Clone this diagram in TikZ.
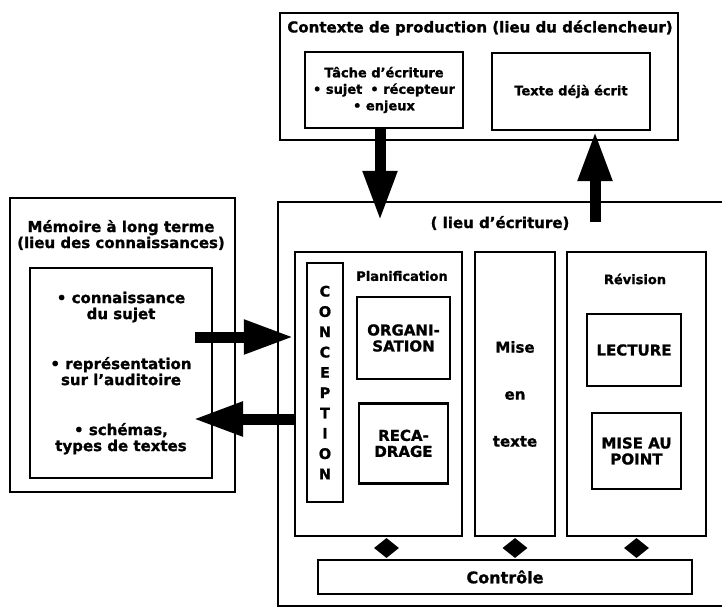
\documentclass[tikz,border=0pt]{standalone}
\usepackage{fontspec}
\setmainfont{DejaVu Sans}[BoldFeatures={FakeBold=1.2}]
\usetikzlibrary{positioning,shapes.geometric,arrows.meta}

\begin{document}
\begin{tikzpicture}[x=1pt, y=-1pt,
  frame/.style={rectangle, draw, line width=2.4pt, inner sep=0pt, align=center},
  big/.style={font=\bfseries\fontsize{15}{16}\selectfont, align=center},
  small/.style={font=\bfseries\fontsize{13}{16.5}\selectfont, align=center},
  bigarr/.style={line width=11pt, -{Triangle[length=50pt, width=32pt]}},
  link/.style={diamond, fill=black, inner sep=0pt, minimum width=25pt, minimum height=20pt}
]
\useasboundingbox (0,0) rectangle (722,609);
\clip (0,0) rectangle (722,609);

% contexte de production
\node[frame, minimum width=398pt, minimum height=127pt] (ctx) at (479,76.5) {};
\node[big] (ctxtitle) at (480,28) {Contexte de production (lieu du déclencheur)};
\node[frame, small, minimum width=158pt, minimum height=76pt] (task) at (384,90)
  {Tâche d’écriture\\• sujet\hspace{8pt}• récepteur\\• enjeux};
\node[frame, small, minimum width=158pt, minimum height=77pt] (written) at (571,91.5) {Texte déjà écrit};

% memoire a long terme
\node[frame, minimum width=225pt, minimum height=294pt] (mem) at (122.5,345) {};
\node[big] (memtitle) at (121,235) {Mémoire à long terme\\(lieu des connaissances)};
\node[frame, big, minimum width=182pt, minimum height=210pt] (memin) at (121,373)
  {• connaissance\\du sujet\\[34pt]• représentation\\sur l’auditoire\\[34pt]• schémas,\\types de textes};

% lieu d'ecriture
\node[frame, minimum width=448pt, minimum height=404pt] (main) at (502,404) {};
\node[big] (maintitle) at (500,223) {( lieu d’écriture)};

\node[frame, minimum width=167pt, minimum height=284pt] (plan) at (378.5,394) {};
\node[frame, font=\bfseries\fontsize{14.5}{20.3}\selectfont, minimum width=36pt, minimum height=239pt] (conc) at (325,382.5)
  {C\\O\\N\\C\\E\\P\\T\\I\\O\\N};
\node[small] (plantitle) at (402,276) {Planification};
\node[frame, big, minimum width=93pt, minimum height=82pt] (org) at (403.5,338) {ORGANI-\\SATION};
\node[frame, big, minimum width=89pt, minimum height=80pt, below=22pt of org] (recad) {RECA-\\DRAGE};

\node[frame, big, minimum width=80pt, minimum height=284pt] (mise) at (515,394) {Mise\\[31pt]en\\[31pt]texte};

\node[frame, minimum width=139pt, minimum height=284pt] (rev) at (636.5,394) {};
\node[small] (revtitle) at (635,279) {Révision};
\node[frame, big, minimum width=94pt, minimum height=72pt] (lect) at (634,350) {LECTURE};
\node[frame, big, minimum width=89pt, minimum height=76pt] (point) at (636.5,451) {MISE AU\\POINT};

\node[frame, font=\bfseries\fontsize{16}{16}\selectfont, minimum width=374pt, minimum height=34pt] (ctrl) at (505,577) {Contrôle};

% liens avec le controle
\foreach \b/\dx in {plan/8, mise/0, rev/0}
  \path ([xshift=\dx pt]\b.south) -- ([xshift=\dx pt]\b.south |- ctrl.north) node[link, midway] (lk\b) {};

% fleches
\draw[bigarr] ([xshift=-4pt]task.south) -- ([xshift=-4pt, yshift=-20pt]task.south |- main.north);
\draw[bigarr] ([xshift=24pt, yshift=-21pt]written.south |- main.north) -- ([xshift=24pt]written.south);

\coordinate (inarr) at (195,337);
\coordinate (outarr) at (193,419);
\draw[bigarr] (inarr) -- (inarr -| plan.west);
\draw[bigarr] (outarr -| plan.west) -- (outarr);

\end{tikzpicture}
\end{document}
